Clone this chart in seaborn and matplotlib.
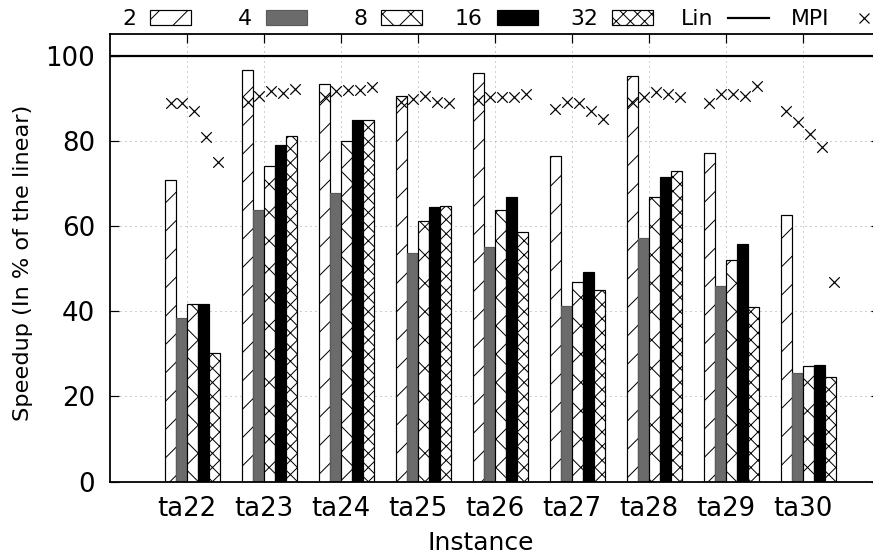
import matplotlib
matplotlib.use('Agg')
import matplotlib.pyplot as plt
import seaborn as sns
import pandas as pd
import numpy as np
from matplotlib.patches import Patch
from matplotlib.lines import Line2D

# ---------------- data ----------------
instances = ['ta22', 'ta23', 'ta24', 'ta25', 'ta26', 'ta27', 'ta28', 'ta29', 'ta30']
procs = ['2', '4', '8', '16', '32']
speedup_2 = [70.9, 96.7, 93.4, 90.6, 95.9, 76.4, 95.1, 77.1, 62.7]
speedup_4 = [38.4, 63.7, 67.8, 53.6, 55.0, 41.2, 57.2, 45.9, 25.5]
speedup_8 = [41.6, 74.2, 79.9, 61.3, 63.8, 46.9, 66.8, 52.1, 27.1]
speedup_16 = [41.8, 79.1, 84.8, 64.4, 66.8, 49.2, 71.6, 55.7, 27.5]
speedup_32 = [30.3, 81.1, 85.0, 64.6, 58.7, 45.1, 73.0, 41.0, 24.6]
lin_value = 100
mpi_2 = [88.8, 89.1, 90.2, 89.1, 89.5, 87.4, 89.1, 88.9, 87.1]
mpi_4 = [88.8, 90.5, 91.8, 89.9, 90.2, 89.1, 90.4, 91.0, 84.4]
mpi_8 = [86.9, 91.6, 92.0, 90.5, 90.2, 88.9, 91.4, 91.0, 81.6]
mpi_16 = [81.0, 91.2, 92.0, 89.1, 90.2, 86.9, 91.0, 90.5, 78.5]
mpi_32 = [75.0, 92.1, 92.6, 88.9, 91.0, 85.2, 90.2, 92.8, 46.9]
y_ticks = [0, 20, 40, 60, 80, 100]

speedups = [speedup_2, speedup_4, speedup_8, speedup_16, speedup_32]
mpis = [mpi_2, mpi_4, mpi_8, mpi_16, mpi_32]

# ---------------- style ----------------
W, H, DPI = 873, 557, 170
def px(v):
    return v * 72.0 / DPI

plt.rcParams['font.family'] = ['DejaVu Sans']
plt.rcParams['hatch.linewidth'] = px(1.0)
plt.rcParams['lines.scale_dashes'] = False

BAR_W = 0.142
MPI_OFFSETS = [-0.213, -0.059, 0.095, 0.249, 0.403]
faces = ['white', '#6b6b6b', 'white', 'black', 'white']
edges = ['black', '#5a5a5a', 'black', 'black', 'black']
hatches = ['//', None, 'xx', None, 'xxxx']

fig = plt.figure(figsize=(W / DPI, H / DPI), dpi=DPI)
left, right, top, bottom = 110, 879.7, 34.3, 481.7
ax = fig.add_axes([left / W, 1 - bottom / H, (right - left) / W, (bottom - top) / H])

rows = []
for p, vals in zip(procs, speedups):
    for inst, v in zip(instances, vals):
        rows.append({'Instance': inst, 'Procs': p, 'Speedup': v})
df = pd.DataFrame(rows)

sns.barplot(data=df, x='Instance', y='Speedup', hue='Procs', order=instances,
            hue_order=procs, width=5 * BAR_W, dodge=True, gap=0, errorbar=None,
            legend=False, ax=ax, zorder=2)

for k, cont in enumerate(ax.containers):
    for p in cont:
        p.set_x(p.get_x() + BAR_W / 2)
        p.set_facecolor(faces[k])
        p.set_edgecolor(edges[k])
        p.set_linewidth(px(1.2))
        if hatches[k]:
            p.set_hatch(hatches[k])

# Linear reference
ax.axhline(lin_value, color='black', linewidth=px(2.2), zorder=3)

# MPI markers
mpi_rows = []
for k, vals in enumerate(mpis):
    for i, v in enumerate(vals):
        mpi_rows.append({'x': i + MPI_OFFSETS[k], 'MPI': v})
mdf = pd.DataFrame(mpi_rows)
sns.scatterplot(data=mdf, x='x', y='MPI', marker='x', color='black',
                s=px(10.5) ** 2, linewidth=px(1.2), ax=ax, zorder=4, legend=False)

ax.set_xlim(-1, 9)
ax.set_ylim(0, 105)
ax.set_xticks(range(len(instances)))
ax.set_xticklabels(instances)
ax.set_yticks(y_ticks)

ax.grid(True, linestyle=(0, (px(1), px(4))), color='#a0a0a0', linewidth=px(1))
ax.set_axisbelow(True)
for s in ax.spines.values():
    s.set_linewidth(px(1.8))
    s.set_color('black')

ax.tick_params(axis='both', direction='in', top=True, right=True,
               length=px(9), width=px(1.2), labelsize=px(26), colors='black')
ax.tick_params(axis='x', pad=px(14))
ax.tick_params(axis='y', pad=px(15))

ax.set_xlabel('Instance', fontsize=px(25))
ax.set_ylabel('Speedup (In % of the linear)', fontsize=px(22.5))
ax.yaxis.set_label_coords((33 - left) / (right - left), 0.49)
ax.xaxis.set_label_coords((481 - left) / (right - left), -(531 - bottom) / (bottom - top))

# Legend (gnuplot-style: text right-aligned before sample, fixed column pitch)
handles = []
for k in range(5):
    handles.append(Patch(facecolor=faces[k], edgecolor=edges[k], hatch=hatches[k],
                         linewidth=px(1.2)))
handles.append(Line2D([], [], color='black', linewidth=px(2.2)))
handles.append(Line2D([], [], color='black', marker='x', linestyle='none',
                      markersize=px(10.5), markeredgewidth=px(1.2)))
labels = procs + ['Lin', 'MPI']
LEG_FS = 22
for j, (h, lab) in enumerate(zip(handles, labels)):
    xr = 191 + 115.5 * j
    fig.legend([h], [lab], loc='center right', bbox_to_anchor=(xr / W, 1 - 19 / H),
               frameon=False, borderpad=0, borderaxespad=0, markerfirst=False,
               fontsize=px(LEG_FS), handlelength=41 / LEG_FS, handleheight=14 / LEG_FS,
               handletextpad=14 / LEG_FS)

fig.savefig('out.png', dpi=DPI)
